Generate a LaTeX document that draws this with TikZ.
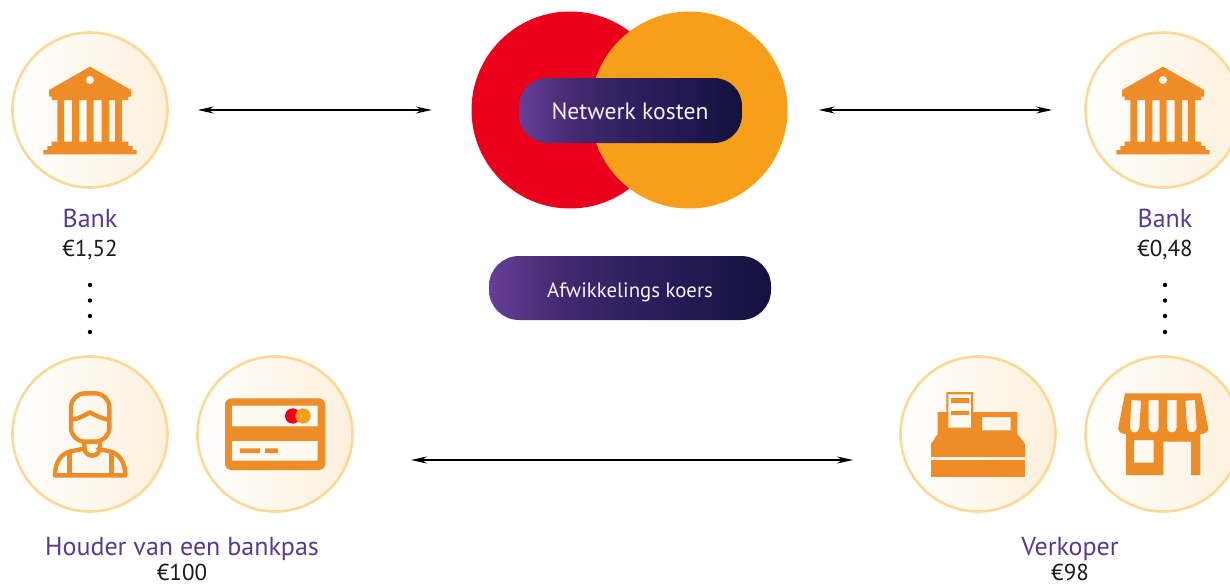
\documentclass[tikz,border=0pt]{standalone}
\usepackage{fontspec}
\setmainfont{PT Sans}
\usetikzlibrary{arrows.meta}
\definecolor{iconorange}{HTML}{EE8C28}
\definecolor{ringc}{HTML}{FDD996}
\definecolor{creamc}{HTML}{FDF0DC}
\definecolor{labelpurple}{HTML}{5B3A8E}
\definecolor{mcred}{HTML}{EB001B}
\definecolor{mcorange}{HTML}{F79E1B}
\definecolor{inktext}{HTML}{1A1A1A}
\definecolor{pillA}{HTML}{683E98}
\definecolor{pillB}{HTML}{43296F}
\definecolor{pillC}{HTML}{2F2060}
\definecolor{pillD}{HTML}{14113F}
\pgfdeclarehorizontalshading{pillshade}{100bp}{
  color(0bp)=(pillA); color(25bp)=(pillA); color(37.5bp)=(pillB); color(50bp)=(pillC); color(75bp)=(pillD); color(100bp)=(pillD)}
\tikzset{
  badge/.style={circle,draw=ringc,line width=2.6pt,minimum size=155pt,inner sep=0pt,left color=white,right color=creamc},
  pillbox/.style={rectangle,inner sep=0pt,shading=pillshade},
  pilltext/.style={text=white!93!pillA,anchor=base,inner sep=0pt},
  twoway/.style={line width=1.2pt,black,{Stealth[length=16pt,width=7pt]}-{Stealth[length=16pt,width=7pt]}},
  who/.style={text=labelpurple,font=\fontsize{26}{28}\selectfont,anchor=base,inner sep=0pt},
  sum/.style={text=inktext,font=\fontsize{23}{28}\selectfont,anchor=base,inner sep=0pt},
  pt/.style={circle,fill=black,inner sep=0pt,minimum size=4.4pt},
  iconfill/.style={fill=iconorange,even odd rule},
  iconline/.style={draw=iconorange,line width=4.4pt,line join=round,line cap=round,fill=none},
  zoomunits/.style={x=0.33333pt,y=-0.33333pt},
}
\newcommand{\bankglyph}{%
  \fill[iconfill] (270,140)--(393,210)--(393,230)--(385,230)--(385,240)--(366,240)--(366,365)--(385,365)--(385,378)--(398,378)--(398,390)--(410,390)--(410,403)--(130,403)--(130,390)--(142,390)--(142,378)--(155,378)--(155,365)--(172,365)--(172,240)--(155,240)--(155,230)--(147,230)--(147,210)--cycle
  (192,240) rectangle (216,365) (238,240) rectangle (260,365) (281,240) rectangle (305,365) (327,240) rectangle (345,365)
  (270,180) circle[radius=12.5];}
\begin{document}
\begin{tikzpicture}[x=1pt,y=-1pt]
\useasboundingbox (0,0) rectangle (1230,584);
\clip (0,0) rectangle (1230,584);

% badges
\node[badge] (bankL) at (90,110) {};
\node[badge] (bankR) at (1163,110) {};
\node[badge] (holder) at (90,434) {};
\node[badge] (card) at (275,434) {};
\node[badge] (till) at (978,434) {};
\node[badge] (shop) at (1163,434) {};

% network circles
\node[circle,fill=mcred,minimum size=197pt,inner sep=0pt] (red) at (570,110) {};
\node[circle,fill=mcorange,minimum size=197pt,inner sep=0pt] (orange) at (689,110) {};

% pills
\node[pillbox,rounded corners=28pt,minimum width=223pt,minimum height=65pt] (netw) at (630.5,110.5) {};
\node[pilltext,font=\fontsize{23.6}{28}\selectfont] (netwt) at (630,119) {Netwerk kosten};
\node[pillbox,rounded corners=30pt,minimum width=282pt,minimum height=64pt] (afw) at (630,288) {};
\node[pilltext,font=\fontsize{20.8}{28}\selectfont] (afwt) at (630,297) {Afwikkelings koers};

% icons
\begin{scope}[shift={(0,20)},zoomunits]\bankglyph\end{scope}
\begin{scope}[shift={(1073,20)},zoomunits]\bankglyph\end{scope}

% person
\begin{scope}[shift={(0,350)},zoomunits]
  \draw[iconline,rounded corners=14pt] (213,130) rectangle (328,275);
  \draw[iconline] (218,209) .. controls (240,204) and (258,194) .. (270,187) .. controls (282,194) and (300,204) .. (325,209);
  \draw[iconline] (253,280) -- (253,292) .. controls (253,325) and (300,325) .. (300,292) -- (300,280);
  \draw[iconline] (248,297) -- (212,304) .. controls (185,310) and (165,335) .. (165,376) -- (376,376) .. controls (376,335) and (356,310) .. (329,304) -- (295,297);
  \draw[iconline,line cap=butt] (208,306) -- (208,376);
  \draw[iconline,line cap=butt] (334,306) -- (334,376);
\end{scope}

% bank card
\begin{scope}[shift={(0,350)},zoomunits]
  \fill[iconfill,rounded corners=6.5pt] (675,145) rectangle (976,360);
  \fill[white!60!creamc] (696,167) rectangle (953,229) (696,273) rectangle (953,332);
  \fill[iconorange] (720,295) rectangle (780,309) (795,295) rectangle (834,309);
  \fill[mcred] (878,198) circle[radius=23];
  \fill[mcorange] (909,198) circle[radius=23];
\end{scope}

% till
\begin{scope}[shift={(890,350)},zoomunits]
  \fill[iconfill] (123,330) rectangle (405,381);
  \fill[iconfill] (123,321)--(123,282)--(143,252)--(143,186)--(169,186)--(169,126)--(249,126)--(249,186)--(382,186)--(382,252)--(405,282)--(405,321)--cycle
    (175,133) rectangle (243,233) (276,201) rectangle (362,241);
  \fill[iconorange] (183,144) rectangle (237,159) (183,183) rectangle (237,195);
\end{scope}

% shop
\begin{scope}[shift={(890,350)},zoomunits]
  \fill[iconfill] (705,130)--(933,130)--(954,232) .. controls (957,245) and (945,252) .. (931,252)--(931,375)--(903,375)--(903,275)--(820,275)--(820,375)--(708,375)--(708,252) .. controls (695,252) and (682,245) .. (685,232)--cycle
    (732,270) rectangle (791,338)
    (724,150)--(753,152)--(748,234) .. controls (746,252) and (722,252) .. (720,234)--cycle
    (776,150)--(806,150)--(806,234) .. controls (806,252) and (776,252) .. (776,234)--cycle
    (831,150)--(860,150)--(860,234) .. controls (860,252) and (831,252) .. (831,234)--cycle
    (886,152)--(915,150)--(920,234) .. controls (918,252) and (894,252) .. (891,234)--cycle;
\end{scope}

% labels
\node[who] (lbl1) at (90,227) {Bank};
\node[sum] (amt1) at (90,256) {€1,52};
\node[who] (lbl2) at (1165,227) {Bank};
\node[sum] (amt2) at (1165,256) {€0,48};
\node[who] (lbl3) at (182,555) {Houder van een bankpas};
\node[sum] (amt3) at (182,580) {€100};
\node[who] (lbl4) at (1070,555) {Verkoper};
\node[sum] (amt4) at (1070,580) {€98};

% dots
\foreach \n/\yy in {a/285,b/300.5,c/316,d/332}{
  \node[pt] (dl\n) at (90,\yy) {};
  \node[pt] (dr\n) at (1165,\yy) {};
}

% arrows
\draw[twoway,shorten <=29pt,shorten >=39.5pt] (bankL.east) -- (red.west);
\draw[twoway,shorten <=31pt,shorten >=32pt] (orange.east) -- (bankR.west);
\coordinate (payL) at (411,460);
\coordinate (payR) at (853,460);
\draw[twoway] (payL) -- (payR);
\end{tikzpicture}
\end{document}
